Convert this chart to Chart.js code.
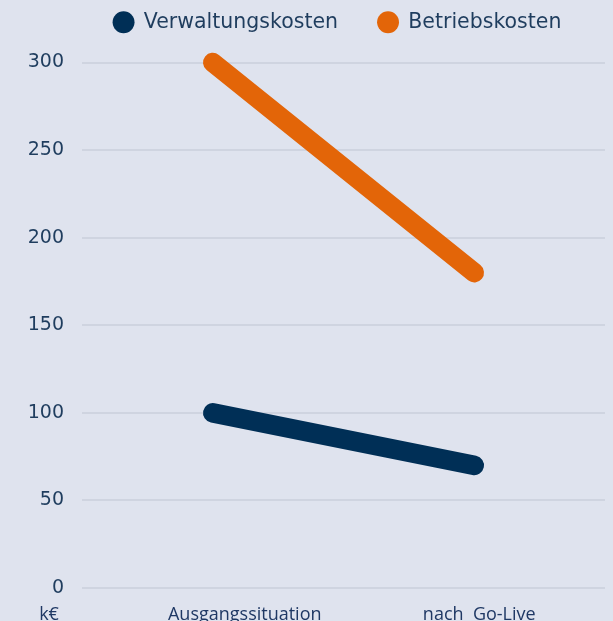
<!DOCTYPE html>
<html><head><meta charset="utf-8">
<script src="https://cdn.jsdelivr.net/npm/chart.js@4.4.1/dist/chart.umd.min.js"></script>
<style>
html,body{margin:0;padding:0;background:#dfe3ee;overflow:hidden;}
#wrap{width:613px;height:621px;position:relative;}
</style></head>
<body><div id="wrap"><canvas id="c" width="613" height="621"></canvas></div>
<script>
const categories = ['Ausgangssituation', 'nach  Go-Live'];
const verwaltungskosten = [100, 70];
const betriebskosten = [300, 180];
const yTicks = [0, 50, 100, 150, 200, 250, 300];
const unitLabel = 'k€';
const labelShift = [32, 5];

const layoutPlugin = {
  id: 'layoutTweaks',
  beforeInit(chart) {
    const lg = chart.legend;
    if (lg) {
      const origFit = lg.fit;
      lg.fit = function () { origFit.call(this); this.height -= 8; };
    }
  },
  afterLayout(chart) {
    const lg = chart.legend;
    const ca = chart.chartArea;
    if (lg) {
      const shift = (ca.left + ca.right) / 2 - 6 - (lg.left + lg.right) / 2;
      lg.left += shift; lg.right += shift;
      lg.top -= 28; lg.bottom -= 28;
    }
  },
  afterDraw(chart) {
    const ctx = chart.ctx;
    const x = chart.scales.x;
    const y = chart.scales.y;
    ctx.save();
    ctx.font = '18px "Open Sans", sans-serif';
    ctx.fillStyle = '#1f3864';
    ctx.textAlign = 'center';
    ctx.textBaseline = 'alphabetic';
    const baseY = y.getPixelForValue(0) + 32;
    ctx.fillText(unitLabel, 49, baseY);
    categories.forEach((c, i) => {
      ctx.fillText(c, x.getPixelForValue(i) + labelShift[i], baseY);
    });
    ctx.restore();
  }
};

new Chart(document.getElementById('c'), {
  type: 'line',
  data: {
    labels: categories,
    datasets: [
      { label: 'Verwaltungskosten', data: verwaltungskosten, borderColor: '#002f56', backgroundColor: '#002f56',
        borderWidth: 19.5, borderCapStyle: 'round', pointRadius: 0, pointHoverRadius: 0, tension: 0, clip: false },
      { label: 'Betriebskosten', data: betriebskosten, borderColor: '#e36508', backgroundColor: '#e36508',
        borderWidth: 19.5, borderCapStyle: 'round', pointRadius: 0, pointHoverRadius: 0, tension: 0, clip: false }
    ]
  },
  options: {
    responsive: false,
    animation: false,
    layout: { padding: { left: 0, right: 8, top: 0, bottom: 25 } },
    plugins: {
      tooltip: { enabled: false },
      legend: {
        position: 'top',
        labels: {
          usePointStyle: true, pointStyle: 'circle', boxWidth: 20, boxHeight: 15.5,
          padding: 40, color: '#1f3d5e',
          font: { family: '"DejaVu Sans", sans-serif', size: 20.5 },
          generateLabels(chart) {
            return chart.data.datasets.map((d, i) => ({
              text: d.label, fillStyle: d.backgroundColor, strokeStyle: d.backgroundColor,
              lineWidth: 0, pointStyle: 'circle', hidden: false, datasetIndex: i, fontColor: '#1f3d5e'
            }));
          }
        }
      }
    },
    scales: {
      x: {
        offset: true,
        grid: { display: false },
        border: { display: false },
        ticks: { display: false }
      },
      y: {
        min: 0, max: 300,
        afterBuildTicks(s) { s.ticks = yTicks.map(v => ({ value: v })); },
        afterFit(s) { s.width = 82; },
        grid: { color: '#cfd4e0', lineWidth: 2, drawTicks: false },
        border: { display: false },
        ticks: { color: '#1f3d5e', font: { family: '"DejaVu Sans", sans-serif', size: 19 }, padding: 18 }
      }
    }
  },
  plugins: [layoutPlugin]
});
</script></body></html>
